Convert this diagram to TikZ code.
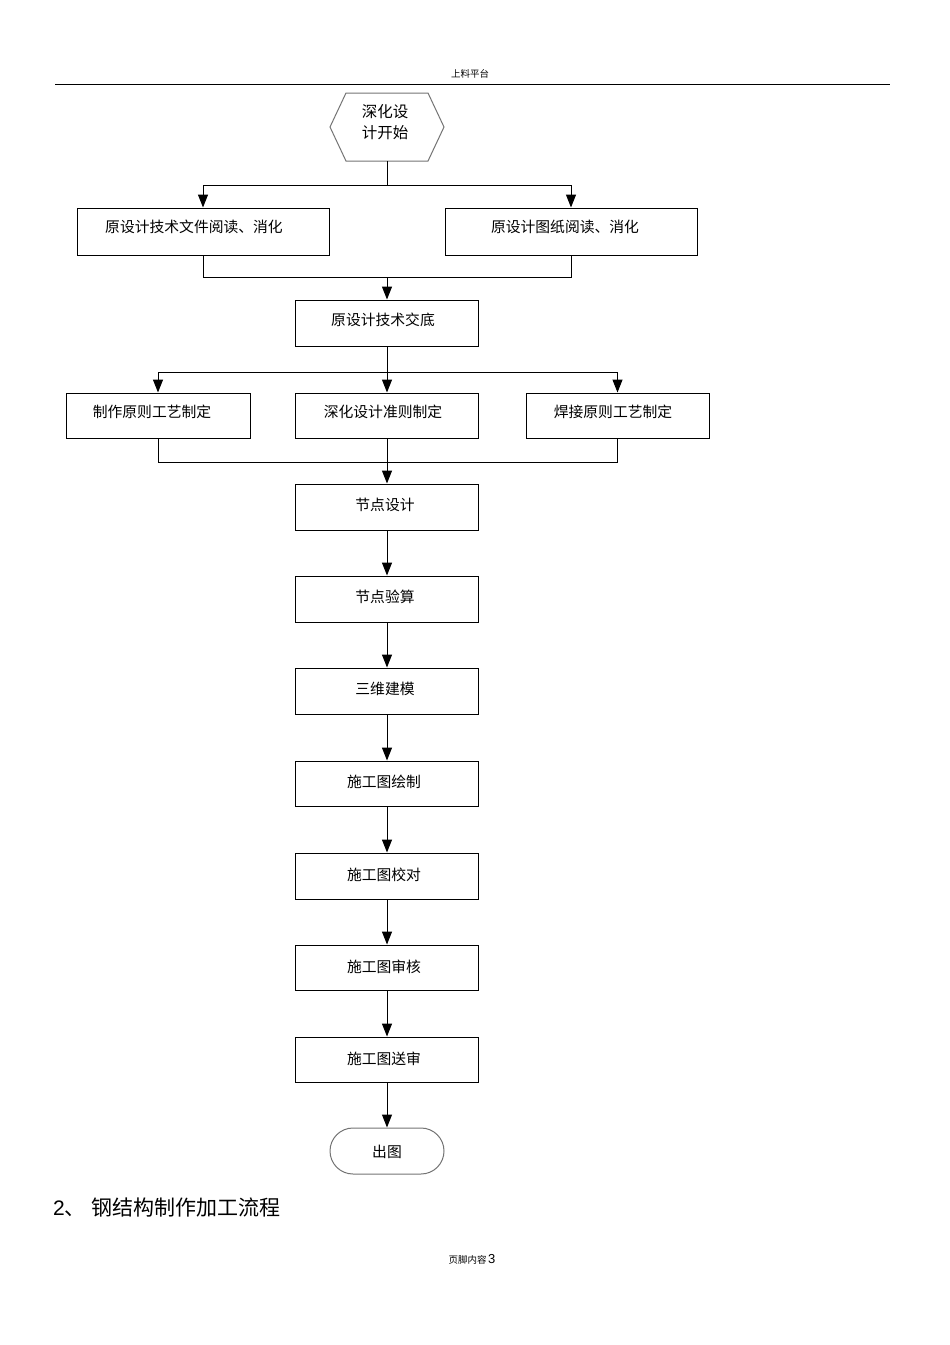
\documentclass[tikz,border=0pt]{standalone}
\usepackage{fontspec}
\setmainfont{Liberation Sans}
\newfontfamily\cjk{Noto Sans CJK SC}
\usetikzlibrary{arrows.meta,shapes.misc}
\begin{document}
\begin{tikzpicture}[x=1pt,y=-1pt,
  box/.style={draw=black,line width=0.95pt,rectangle,inner sep=0pt},
  txt/.style={font=\cjk\fontsize{14.8}{16}\selectfont,inner sep=0pt},
  conn/.style={line width=1pt},
  arr/.style={line width=1pt,-{Triangle[length=13pt,width=10pt]}},
  grayline/.style={draw=black!55,line width=1pt}]
\useasboundingbox (0,0) rectangle (950,1345);
% header
\node[font=\cjk\fontsize{9.5}{11}\selectfont,inner sep=0pt] (hdr) at (470,74) {上料平台};
\coordinate (hl) at (55,84.5);
\coordinate (hr) at (890,84.5);
\draw[line width=1pt] (hl) -- (hr);
% start hexagon
\coordinate (h1) at (330,127); \coordinate (h2) at (346,93); \coordinate (h3) at (428,93);
\coordinate (h4) at (444,127); \coordinate (h5) at (428,161); \coordinate (h6) at (346,161);
\draw[grayline] (h1) -- (h2) -- (h3) -- (h4) -- (h5) -- (h6) -- cycle;
\node[txt,align=center,font=\cjk\fontsize{15.5}{21}\selectfont] (start) at (385,122) {深化设\\计开始};
\coordinate (hb) at (387,161);
% row 1
\node[box,minimum width=252pt,minimum height=47pt] (b1) at (203,231.5) {};
\node[txt] (t1) at (194,227) {原设计技术文件阅读、消化};
\node[box,minimum width=252pt,minimum height=47pt] (b2) at (571,231.5) {};
\node[txt] (t2) at (565,227) {原设计图纸阅读、消化};
\coordinate (s1) at (387,185);
\draw[conn] (hb) -- (s1);
\draw[arr] (s1) -| (b1.north);
\draw[arr] (s1) -| (b2.north);
% merge to b3
\node[box,minimum width=183pt,minimum height=46pt] (b3) at (387,323) {};
\node[txt] (t3) at (383,320) {原设计技术交底};
\coordinate (m1) at (387,277);
\draw[conn] (b1.south) |- (m1);
\draw[conn] (b2.south) |- (m1);
\draw[arr] (m1) -- (b3.north);
% row 3
\node[box,minimum width=184pt,minimum height=45pt] (b4) at (158,415.5) {};
\node[txt] (t4) at (152,412) {制作原则工艺制定};
\node[box,minimum width=183pt,minimum height=45pt] (b5) at (387,415.5) {};
\node[txt] (t5) at (383,412) {深化设计准则制定};
\node[box,minimum width=183pt,minimum height=45pt] (b6) at (617.5,415.5) {};
\node[txt] (t6) at (613,412) {焊接原则工艺制定};
\coordinate (s2) at (387,372);
\draw[conn] (b3.south) -- (s2);
\draw[arr] (s2) -| (b4.north);
\draw[arr] (s2) -- (b5.north);
\draw[arr] (s2) -| (b6.north);
% merge
\coordinate (m2) at (387,462);
\draw[conn] (b4.south) |- (m2);
\draw[conn] (b6.south) |- (m2);
% main chain
\node[box,minimum width=183pt,minimum height=46pt] (b7) at (387,507) {};
\node[txt] (t7) at (385,505) {节点设计};
\node[box,minimum width=183pt,minimum height=46pt] (b8) at (387,599) {};
\node[txt] (t8) at (385,597) {节点验算};
\node[box,minimum width=183pt,minimum height=46pt] (b9) at (387,691) {};
\node[txt] (t9) at (385,689) {三维建模};
\node[box,minimum width=183pt,minimum height=45pt] (b10) at (387,783.5) {};
\node[txt] (t10) at (384,782) {施工图绘制};
\node[box,minimum width=183pt,minimum height=46pt] (b11) at (387,876) {};
\node[txt] (t11) at (384,875) {施工图校对};
\node[box,minimum width=183pt,minimum height=45pt] (b12) at (387,967.5) {};
\node[txt] (t12) at (384,967) {施工图审核};
\node[box,minimum width=183pt,minimum height=45pt] (b13) at (387,1059.5) {};
\node[txt] (t13) at (384,1059) {施工图送审};
\node[draw=black!55,line width=1pt,rounded rectangle,minimum width=114pt,minimum height=46pt,inner sep=0pt] (end) at (387,1151) {};
\node[txt] (tend) at (387,1152) {出图};
\draw[arr] (b5.south) -- (b7.north);
\draw[arr] (b7.south) -- (b8.north);
\draw[arr] (b8.south) -- (b9.north);
\draw[arr] (b9.south) -- (b10.north);
\draw[arr] (b10.south) -- (b11.north);
\draw[arr] (b11.south) -- (b12.north);
\draw[arr] (b12.south) -- (b13.north);
\draw[arr] (b13.south) -- (end.north);
% heading
\node[anchor=west,inner sep=0pt,font=\fontsize{21}{24}\selectfont] (heading) at (53,1208) {2{\cjk 、}\hspace{6pt}{\cjk 钢结构制作加工流程}};
% footer
\node[inner sep=0pt] (ftr) at (472,1259) {{\cjk\fontsize{9.5}{11}\selectfont 页脚内容}\,{\fontsize{13}{15}\selectfont 3}};
\end{tikzpicture}
\end{document}
